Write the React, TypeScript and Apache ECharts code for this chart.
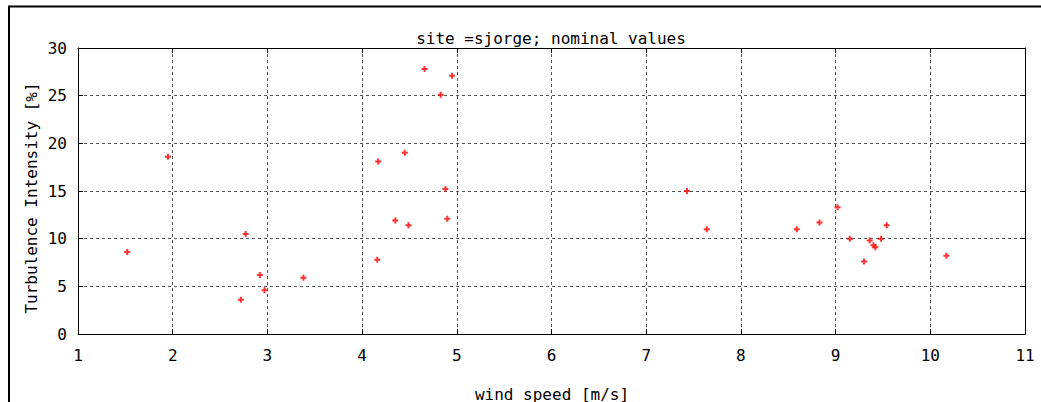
import React, { useEffect, useRef } from "react";
import * as echarts from "echarts";

const windSpeed: number[] = [
  1.52, 1.95, 2.72, 2.77, 2.92, 2.97, 3.38, 4.16, 4.17, 4.35, 4.45, 4.49,
  4.66, 4.83, 4.88, 4.9, 4.95, 7.43, 7.64, 8.59, 8.83, 9.02, 9.15, 9.3,
  9.36, 9.4, 9.42, 9.48, 9.54, 10.17,
];
const turbulence: number[] = [
  8.6, 18.6, 3.6, 10.5, 6.2, 4.6, 5.9, 7.8, 18.1, 11.9, 19.0, 11.4,
  27.8, 25.1, 15.2, 12.1, 27.1, 15.0, 11.0, 11.0, 11.7, 13.3, 10.0, 7.6,
  9.8, 9.3, 9.1, 10.0, 11.4, 8.2,
];
const titleText = "site =sjorge; nominal values";
const xName = "wind speed [m/s]";
const yName = "Turbulence Intensity [%]";

const FONT = "DejaVu Sans Mono";

export default function App() {
  const ref = useRef<HTMLDivElement>(null);
  useEffect(() => {
    if (!ref.current) return;
    const chart = echarts.init(ref.current, undefined, { renderer: "svg" });
    const points = windSpeed.map((x, i) => [x, turbulence[i]]);
    const gridLine = { show: true, lineStyle: { color: "#555", width: 1, type: [3, 3] as any } };
    const axisLine = { show: true, onZero: false, lineStyle: { color: "#000", width: 1 } };
    const tick = { show: true, inside: true, length: 5, lineStyle: { color: "#000", width: 1 } };
    const label = { color: "#000", fontFamily: FONT, fontSize: 16 };
    chart.setOption({
      animation: false,
      backgroundColor: "#fff",
      grid: { left: 78, top: 48, width: 947, height: 286, show: false },
      xAxis: [
        {
          type: "value", position: "bottom", min: 1, max: 11, interval: 1,
          axisLine, axisTick: tick, splitLine: gridLine,
          axisLabel: { ...label, margin: 13 },
        },
        {
          type: "value", position: "top", min: 1, max: 11, interval: 1,
          axisLine, axisTick: tick, splitLine: { show: false },
          axisLabel: { show: false },
        },
      ],
      yAxis: [
        {
          type: "value", position: "left", min: 0, max: 30, interval: 5,
          axisLine, axisTick: tick, splitLine: gridLine,
          axisLabel: { ...label, margin: 11 },
        },
        {
          type: "value", position: "right", min: 0, max: 30, interval: 5,
          axisLine, axisTick: tick, splitLine: { show: false },
          axisLabel: { show: false },
        },
      ],
      series: [
        {
          type: "scatter",
          data: points,
          symbol: "path://M2,0H4V2H6V4H4V6H2V4H0V2H2Z",
          symbolSize: 6,
          itemStyle: { color: "#ff0000" },
        },
      ],
      graphic: [
        { type: "line", shape: { x1: 8, y1: 6.5, x2: 1041, y2: 6.5 }, style: { stroke: "#000", lineWidth: 2 } },
        { type: "line", shape: { x1: 9, y1: 6, x2: 9, y2: 402 }, style: { stroke: "#000", lineWidth: 2 } },
        {
          type: "text", x: 551, y: 38,
          style: { text: titleText, font: `16px "${FONT}"`, fill: "#000", textAlign: "center", textVerticalAlign: "middle" },
        },
        {
          type: "text", x: 552, y: 394,
          style: { text: xName, font: `16px "${FONT}"`, fill: "#000", textAlign: "center", textVerticalAlign: "middle" },
        },
        {
          type: "text", x: 31, y: 198, rotation: Math.PI / 2,
          style: { text: yName, font: `16px "${FONT}"`, fill: "#000", textAlign: "center", textVerticalAlign: "middle" },
        },
      ],
    });
    return () => chart.dispose();
  }, []);
  return (
    <div
      ref={ref}
      style={{ position: "fixed", left: 0, top: 0, width: 1041, height: 402 }}
    />
  );
}
